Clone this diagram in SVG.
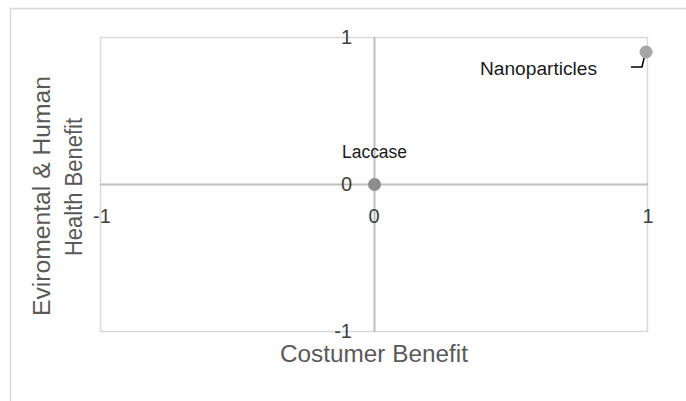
<svg xmlns="http://www.w3.org/2000/svg" width="686" height="401" viewBox="0 0 686 401">
<style>
.frame{fill:#fff;stroke:#d9d9d9;stroke-width:1.5}
.plot{fill:none;stroke:#d9d9d9;stroke-width:1.5}
.axis{stroke:#bfbfbf;stroke-width:2;fill:none}
.tick{font-family:"Liberation Sans",Arial,sans-serif;font-size:20px;fill:#404040}
.title{font-family:"Liberation Sans",Arial,sans-serif;font-size:23px;fill:#595959}
.lbl{font-family:"Liberation Sans",Arial,sans-serif;font-size:18px;fill:#1a1a1a}
</style>
<rect x="0" y="0" width="686" height="401" fill="#fff"/>
<rect class="frame" x="10.5" y="8.5" width="690" height="410"/>
<g id="plot-area">
<rect class="plot" x="100.5" y="37.5" width="547" height="294"/>
</g>
<g id="axes">
<line class="axis" x1="100" y1="184.5" x2="648" y2="184.5"/>
<line class="axis" x1="374.5" y1="37" x2="374.5" y2="332" stroke="#d0d0d0"/>
</g>
<g id="y-ticks">
<text class="tick" x="352" y="44" text-anchor="end">1</text>
<text class="tick" x="352" y="191" text-anchor="end">0</text>
<text class="tick" x="352" y="338" text-anchor="end">-1</text>
</g>
<g id="x-ticks">
<text class="tick" x="102" y="223" text-anchor="middle">-1</text>
<text class="tick" x="374" y="223" text-anchor="middle">0</text>
<text class="tick" x="648" y="223" text-anchor="middle">1</text>
</g>
<g id="x-title">
<text class="title" x="374" y="362" text-anchor="middle" textLength="188" lengthAdjust="spacingAndGlyphs">Costumer Benefit</text>
</g>
<g id="y-title">
<text class="title" transform="translate(50,196) rotate(-90)" text-anchor="middle" textLength="240" lengthAdjust="spacingAndGlyphs">Eviromental &amp; Human</text>
<text class="title" transform="translate(82,187) rotate(-90)" text-anchor="middle" textLength="138" lengthAdjust="spacingAndGlyphs">Health Benefit</text>
</g>
<g id="connectors">
<polyline points="631,67 642,67 645,54" fill="none" stroke="#000" stroke-width="1.5"/>
</g>
<g id="node-laccase">
<circle cx="374.5" cy="184.5" r="6.5" fill="#8c8c8c"/>
<text class="lbl" x="374.5" y="158" text-anchor="middle" textLength="65" lengthAdjust="spacingAndGlyphs">Laccase</text>
</g>
<g id="node-nanoparticles">
<circle cx="646" cy="52" r="6.5" fill="#a6a6a6"/>
<text class="lbl" x="480" y="75" textLength="117" lengthAdjust="spacingAndGlyphs">Nanoparticles</text>
</g>
</svg>
